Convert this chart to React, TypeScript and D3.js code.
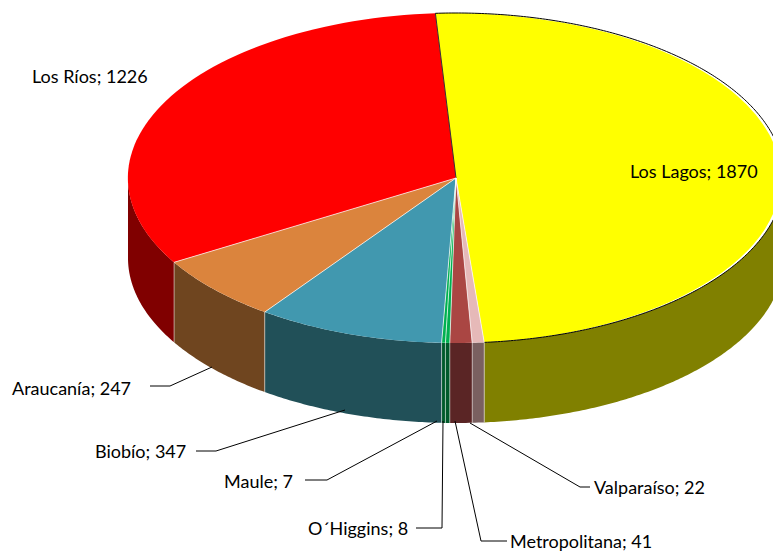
import React from "react";
import * as d3 from "d3";

const categories = ["Los Lagos", "Valparaíso", "Metropolitana", "O´Higgins", "Maule", "Biobío", "Araucanía", "Los Ríos"];
const values = [1870, 22, 41, 8, 7, 347, 247, 1226];
const topColors = ["#ffff00", "#e6b9b8", "#aa4643", "#00b050", "#00b050", "#4198af", "#db843d", "#ff0000"];
const sideColors = ["#808000", "#7a6060", "#5a2525", "#005a2b", "#005a2b", "#215058", "#6f451f", "#800000"];
const labelX = [630, 594, 510, 308, 224, 95, 12, 32];
const labelY = [172, 488, 542, 529, 482, 452, 389, 77];
const leaderPaths = [
  null,
  [[470, 423], [580, 487], [590, 487]],
  [[455, 421], [481, 541], [507, 541]],
  [[443, 421], [442, 528], [416, 528]],
  [[437, 421], [327, 480], [305, 480]],
  [[345, 410], [216, 451], [196, 451]],
  [[212, 367], [170, 386], [150, 386]],
  null,
] as (number[][] | null)[];

const cx = 456;
const cy = 178;
const rx = 328;
const ry = 165;
const depth = 80;
const startDeg = -3.6;

const toRad = (d: number) => (d * Math.PI) / 180;
const px = (a: number) => cx + rx * Math.sin(a);
const py = (a: number) => cy - ry * Math.cos(a);

export default function App() {
  const pie = d3
    .pie<number>()
    .sort(null)
    .startAngle(toRad(startDeg))
    .endAngle(toRad(startDeg + 360));
  const arcs = pie(values);
  const unitArc = d3.arc<d3.PieArcDatum<number>>().innerRadius(0).outerRadius(1);

  const wall = (a0: number, a1: number) => {
    const lo = Math.max(a0, Math.PI / 2);
    const hi = Math.min(a1, (3 * Math.PI) / 2);
    if (hi <= lo) return null;
    const n = Math.max(2, Math.ceil((hi - lo) / 0.01));
    const angles = d3.range(n + 1).map((i) => lo + ((hi - lo) * i) / n);
    const line = d3.line<[number, number]>();
    const pts: [number, number][] = [
      ...angles.map((a) => [px(a), py(a)] as [number, number]),
      ...angles.slice().reverse().map((a) => [px(a), py(a) + depth] as [number, number]),
    ];
    return line(pts) + "Z";
  };

  const rim = (a0: number, a1: number) => {
    const n = Math.ceil((a1 - a0) / 0.01);
    return d3.line<number>().x(px).y(py)(d3.range(n + 1).map((i) => a0 + ((a1 - a0) * i) / n));
  };

  const a = arcs[0];
  return (
    <svg
      width={773}
      height={554}
      style={{ position: "absolute", left: 0, top: 0, background: "#fff" }}
      fontFamily="Lato"
      fontSize={18}
    >
      {arcs.map((d, i) => {
        const p = wall(d.startAngle, d.endAngle);
        return p ? <path key={i} d={p} fill={sideColors[i]} /> : null;
      })}
      {arcs.map((d, i) => (
        <path
          key={i}
          d={unitArc(d) as string}
          transform={`translate(${cx},${cy}) scale(${rx},${ry})`}
          fill={topColors[i]}
        />
      ))}
      {/* separators */}
      <path d={`M${cx},${cy}L${px(a.startAngle)},${py(a.startAngle)}`} stroke="#333" strokeWidth={1} />
      <path d={rim(a.startAngle, a.endAngle) as string} fill="none" stroke="#000" strokeWidth={1} />
      {arcs.slice(1).map((d, i) => (
        <path
          key={i}
          d={`M${cx},${cy}L${px(d.startAngle)},${py(d.startAngle)}`}
          stroke="#fff"
          strokeOpacity={0.7}
          strokeWidth={1}
        />
      ))}
      {arcs.slice(1).map((d, i) => (
        <path
          key={i}
          d={`M${px(d.startAngle)},${py(d.startAngle)}v${depth}`}
          stroke="#fff"
          strokeOpacity={0.5}
          strokeWidth={1}
        />
      ))}
      {leaderPaths.map((l, i) =>
        l ? (
          <path
            key={i}
            d={d3.line()(l as [number, number][]) as string}
            fill="none"
            stroke="#000"
            strokeWidth={1}
          />
        ) : null
      )}
      {categories.map((c, i) => (
        <text key={i} x={labelX[i]} y={labelY[i] + 6} fill="#000">
          {`${c}; ${values[i]}`}
        </text>
      ))}
    </svg>
  );
}
